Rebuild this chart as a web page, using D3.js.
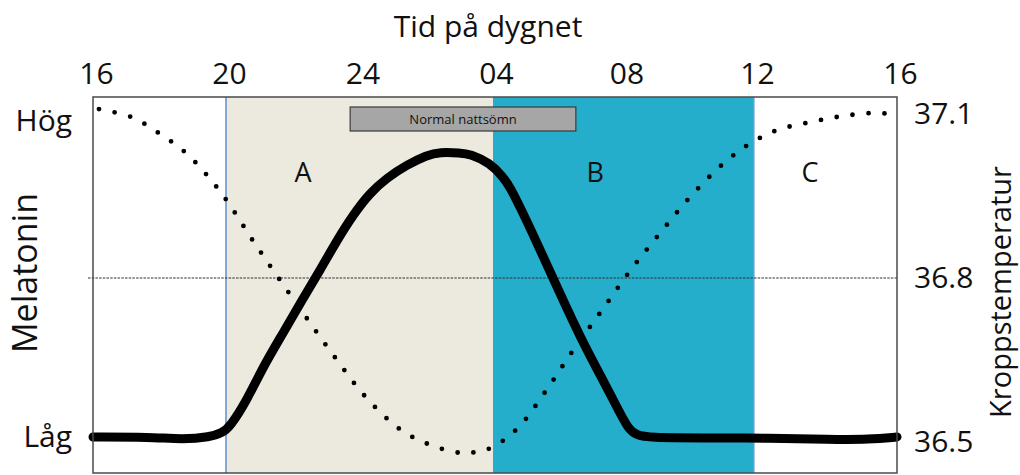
<!DOCTYPE html>
<html><head><meta charset="utf-8">
<script src="https://cdn.jsdelivr.net/npm/d3@7"></script>
<style>body{margin:0;background:#fff}svg{display:block}text{font-family:"Open Sans",sans-serif;fill:#111}</style>
</head><body><svg id="c" width="1020" height="475"></svg>
<script>
// ---- data ----
const hourTicks = [16, 20, 24, 28, 32, 36, 40];
const hourLabels = ["16", "20", "24", "04", "08", "12", "16"];
const tempTicks = [36.5, 36.8, 37.1];
const tempLabels = ["36.5", "36.8", "37.1"];
const melTicks = [0, 100];
const melLabels = ["Låg", "Hög"];
const bandStarts = [20, 28];
const bandEnds = [28, 36];
const regionNames = ["A", "B", "C"];
const regionHours = [22.31, 31.13, 37.57];
const sleepSpan = [23.72, 30.54];
const sleepLabel = "Normal nattsömn";
const refTemp = 36.8;
// temperature (dotted)
const tempHours = [16.18,17.17,17.98,18.77,19.43,20.03,20.81,21.62,22.46,23.30,24.19,25.24,26.11,27.04,27.52,28.0,28.77,29.66,30.48,31.34,32.20,33.12,34.07,35.11,35.91,36.67,37.57,38.46,39.38,39.80];
const tempValues = [37.109,37.094,37.065,37.030,36.988,36.941,36.868,36.796,36.723,36.652,36.582,36.522,36.495,36.480,36.482,36.491,36.526,36.597,36.670,36.741,36.813,36.882,36.950,37.012,37.047,37.071,37.085,37.096,37.102,37.100];
// melatonin (thick line), 0 = Låg, 100 = Hög
const melHours = [16,17.71,18.71,19.52,19.88,20.12,20.63,21.11,21.71,22.28,22.82,23.33,23.81,24.31,24.82,25.42,26.02,26.41,27.01,27.31,27.91,28.31,28.52,28.83,29.35,29.96,30.67,31.37,31.89,32.14,32.38,32.81,34.34,36.45,38.13,39.24,40];
const melValues = [0,0,-0.8,0,1.3,3.2,11.7,22.2,32.9,43.4,52.8,62.3,70.3,77.2,82.0,86.1,89.2,90.2,89.9,89.6,86.7,82.3,79.1,72.8,61.4,47.5,31.6,18.0,7.6,2.8,0.6,-0.2,-0.3,-0.3,-0.8,-0.8,0];

// ---- layout ----
const L = 93, R = 897, T = 97, B = 473;
const svg = d3.select("#c");
const x = d3.scaleLinear().domain([16, 20, 28, 36, 40]).range([L, 226, 493, 754, R]);
const yT = d3.scaleLinear().domain([36.5, 37.1]).range([442, 114]);
const yM = d3.scaleLinear().domain([0, 100]).range([437, 121]);

// bands
const bandColors = ["#ECE9DF", "#25AECB"];
svg.selectAll("rect.band").data(bandStarts).join("rect")
  .attr("x", (d) => x(d)).attr("y", T)
  .attr("width", (d, i) => x(bandEnds[i]) - x(d)).attr("height", B - T)
  .attr("fill", (d, i) => bandColors[i]);
// boundary lines
svg.append("line").attr("x1", x(20)).attr("x2", x(20)).attr("y1", T).attr("y2", B)
  .attr("stroke", "#5B8FD0").attr("stroke-width", 1.5);
svg.append("line").attr("x1", x(36)).attr("x2", x(36)).attr("y1", T).attr("y2", B)
  .attr("stroke", "#7C9BD6").attr("stroke-width", 1.2);

// reference dashed line
svg.append("line").attr("x1", L - 5).attr("x2", R).attr("y1", yT(refTemp)).attr("y2", yT(refTemp))
  .attr("stroke", "#333").attr("stroke-width", 1.2).attr("stroke-dasharray", "2.5,1.2");

// sleep box
svg.append("rect").attr("x", x(sleepSpan[0])).attr("y", 107)
  .attr("width", x(sleepSpan[1]) - x(sleepSpan[0])).attr("height", 24)
  .attr("fill", "#A6A6A6").attr("stroke", "#3a3a3a").attr("stroke-width", 1.2);
svg.append("text").attr("x", (x(sleepSpan[0]) + x(sleepSpan[1])) / 2).attr("y", 124)
  .attr("text-anchor", "middle").attr("font-size", 13).text(sleepLabel);

// region labels
svg.selectAll("text.reg").data(regionNames).join("text")
  .attr("x", (d, i) => x(regionHours[i])).attr("y", 182)
  .attr("text-anchor", "middle").attr("font-size", 27).text((d) => d);

// temperature dotted curve
const tempLine = d3.line().x((d) => x(d[0])).y((d) => yT(d[1])).curve(d3.curveCatmullRom);
svg.append("path").datum(tempHours.map((h, i) => [h, tempValues[i]]))
  .attr("d", tempLine).attr("fill", "none").attr("stroke", "#000")
  .attr("stroke-width", 4.8).attr("stroke-linecap", "round").attr("stroke-dasharray", "0,16");

// melatonin thick curve
const melLine = d3.line().x((d) => x(d[0])).y((d) => yM(d[1])).curve(d3.curveBasis);
svg.append("path").datum(melHours.map((h, i) => [h, melValues[i]]))
  .attr("d", melLine).attr("fill", "none").attr("stroke", "#000")
  .attr("stroke-width", 9).attr("stroke-linecap", "round").attr("stroke-linejoin", "round");

// frame
svg.append("rect").attr("x", L).attr("y", T).attr("width", R - L).attr("height", B - T)
  .attr("fill", "none").attr("stroke", "#4a4a4a").attr("stroke-width", 1.5);

// top axis
const xAxis = d3.axisTop(x).tickValues(hourTicks).tickSize(0).tickPadding(0)
  .tickFormat((d, i) => hourLabels[i]);
const gx = svg.append("g").attr("transform", `translate(3,${84})`).call(xAxis);
gx.select(".domain").remove();
gx.selectAll("text").attr("font-size", 30).attr("font-family", "Open Sans").attr("fill", "#111").attr("dy", 0);

// right axis (temperature)
const yAxisR = d3.axisRight(yT).tickValues(tempTicks).tickSize(0).tickPadding(0)
  .tickFormat((d, i) => tempLabels[i]);
const gr = svg.append("g").attr("transform", `translate(${914},0)`).call(yAxisR);
gr.select(".domain").remove();
gr.selectAll("text").attr("font-size", 30).attr("font-family", "Open Sans").attr("fill", "#111");

// left axis (melatonin)
const yAxisL = d3.axisLeft(yM).tickValues(melTicks).tickSize(0).tickPadding(0)
  .tickFormat((d, i) => melLabels[i]);
const gl = svg.append("g").attr("transform", `translate(${72},0)`).call(yAxisL);
gl.select(".domain").remove();
gl.selectAll("text").attr("font-size", 30).attr("font-family", "Open Sans").attr("fill", "#111");

// titles
svg.append("text").attr("x", 488).attr("y", 37).attr("text-anchor", "middle")
  .attr("font-size", 30).text("Tid på dygnet");
svg.append("text").attr("transform", "translate(37,273) rotate(-90)").attr("text-anchor", "middle")
  .attr("font-size", 34).text("Melatonin");
svg.append("text").attr("transform", "translate(1011,292) rotate(-90)").attr("text-anchor", "middle")
  .attr("font-size", 29).text("Kroppstemperatur");
</script></body></html>
